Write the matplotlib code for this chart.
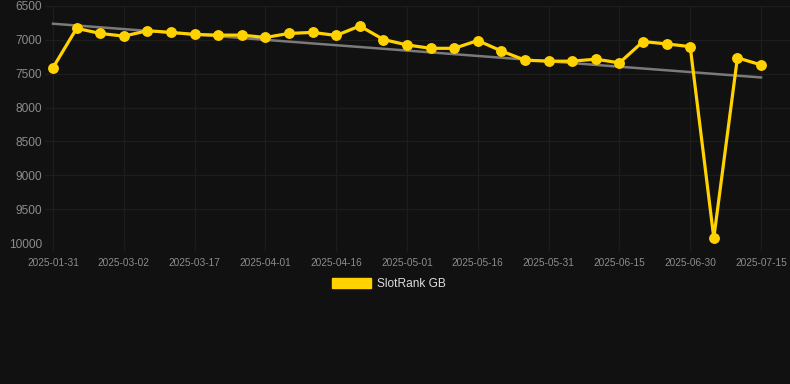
import matplotlib
matplotlib.use('Agg')
import matplotlib.pyplot as plt
import numpy as np
from matplotlib.patches import Patch

dates = ['2025-01-31', '2025-02-20', '2025-02-25', '2025-03-02', '2025-03-07',
         '2025-03-12', '2025-03-17', '2025-03-22', '2025-03-27', '2025-04-01',
         '2025-04-06', '2025-04-11', '2025-04-16', '2025-04-21', '2025-04-26',
         '2025-05-01', '2025-05-06', '2025-05-11', '2025-05-16', '2025-05-21',
         '2025-05-26', '2025-05-31', '2025-06-05', '2025-06-10', '2025-06-15',
         '2025-06-20', '2025-06-25', '2025-06-30', '2025-07-05', '2025-07-10',
         '2025-07-15']
rank = [7410, 6830, 6905, 6945, 6865, 6890, 6920, 6930, 6930, 6965,
        6905, 6890, 6935, 6795, 6995, 7075, 7125, 7125, 7010, 7165,
        7300, 7315, 7315, 7285, 7340, 7025, 7060, 7100, 9925, 7265, 7370]
yticks = [6500, 7000, 7500, 8000, 8500, 9000, 9500, 10000]
series_name = 'SlotRank GB'

bg = '#111111'
yellow = '#FFD200'

plt.rcParams['font.family'] = ['Liberation Sans', 'DejaVu Sans']

fig = plt.figure(figsize=(7.9, 3.84), dpi=100, facecolor=bg)
ax = fig.add_axes([45 / 790, 1 - 243 / 384, 745 / 790, 237 / 384])
ax.set_facecolor(bg)

x = np.arange(len(rank))

# trend line (linear fit)
k, b = np.polyfit(x, rank, 1)
ax.plot([x[0], x[-1]], [k * x[0] + b, k * x[-1] + b], color='#7a7a7a', lw=1.8, zorder=2)

ax.plot(x, rank, color=yellow, lw=2.3, marker='o', ms=6.8,
        solid_joinstyle='miter', zorder=3)

ax.set_ylim(10000, 6500)
ax.set_xlim(-0.34, len(rank) - 1 + 29 / 23.6)
ax.set_yticks(yticks)
ax.set_xticks(x[::3])
ax.set_xticklabels(dates[::3])

ax.grid(True, color='#1d1d1d', lw=0.9)
ax.set_axisbelow(True)
for s in ax.spines.values():
    s.set_visible(False)
ax.tick_params(axis='y', length=0, pad=2, labelsize=8.6, labelcolor='#8c8c8c')
ax.tick_params(axis='x', length=6, width=0.9, color='#1d1d1d', pad=4.5,
               labelsize=7.3, labelcolor='#8c8c8c')

fig.legend(handles=[Patch(facecolor=yellow, edgecolor=yellow, label=series_name)],
           loc='center', bbox_to_anchor=(389 / 790, 1 - 284 / 384), frameon=False,
           fontsize=8.6, labelcolor='#dddddd', handlelength=3.3, handleheight=1.0,
           handletextpad=0.5)

fig.savefig('out.png', dpi=100, facecolor=bg)
